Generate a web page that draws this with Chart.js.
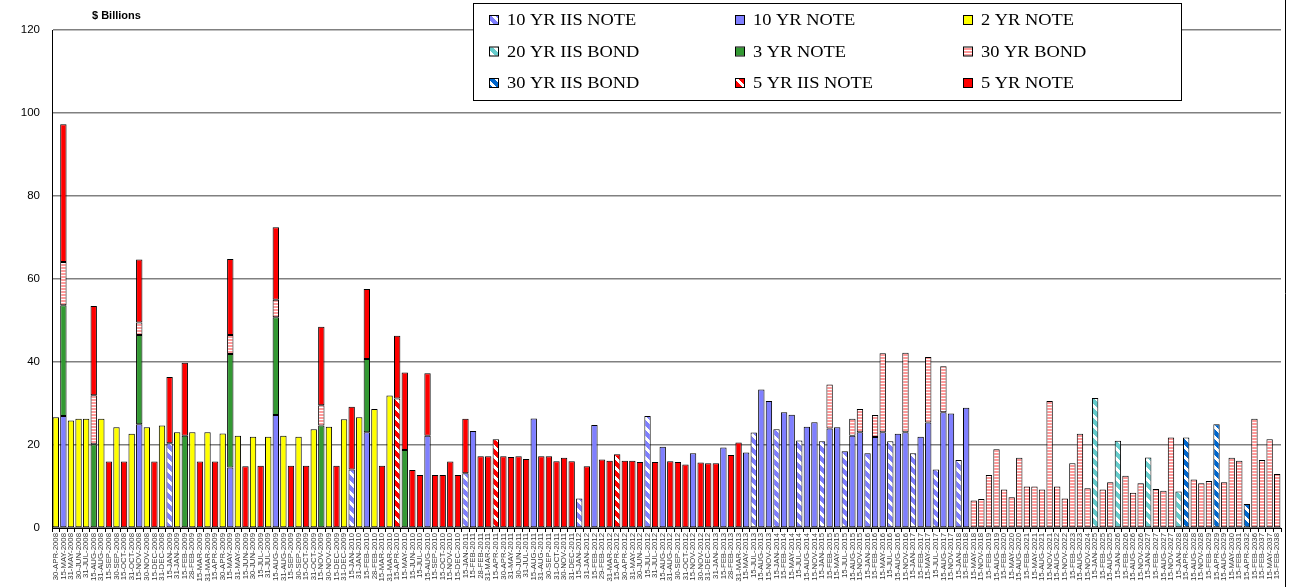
<!DOCTYPE html>
<html>
<head>
<meta charset="utf-8">
<script src="https://cdn.jsdelivr.net/npm/chart.js@4.4.0/dist/chart.umd.min.js"></script>
<style>
  html, body { margin: 0; padding: 0; background: #fff; }
  #wrap { width: 1290px; height: 587px; }
  canvas { display: block; }
</style>
</head>
<body>
<div id="wrap"><canvas id="chart" width="1290" height="587"></canvas></div>
<script>
// Maturity dates (x categories)
const dates = [
  '30-APR-2008','15-MAY-2008','31-MAY-2008','30-JUN-2008','31-JUL-2008','15-AUG-2008','31-AUG-2008','15-SEP-2008',
  '30-SEP-2008','15-OCT-2008','31-OCT-2008','15-NOV-2008','30-NOV-2008','15-DEC-2008','31-DEC-2008','15-JAN-2009',
  '31-JAN-2009','15-FEB-2009','28-FEB-2009','15-MAR-2009','31-MAR-2009','15-APR-2009','30-APR-2009','15-MAY-2009',
  '31-MAY-2009','15-JUN-2009','30-JUN-2009','15-JUL-2009','31-JUL-2009','15-AUG-2009','31-AUG-2009','15-SEP-2009',
  '30-SEP-2009','15-OCT-2009','31-OCT-2009','15-NOV-2009','30-NOV-2009','15-DEC-2009','31-DEC-2009','15-JAN-2010',
  '31-JAN-2010','15-FEB-2010','28-FEB-2010','15-MAR-2010','31-MAR-2010','15-APR-2010','15-MAY-2010','15-JUN-2010',
  '15-JUL-2010','15-AUG-2010','15-SEP-2010','15-OCT-2010','15-NOV-2010','15-DEC-2010','15-JAN-2011','15-FEB-2011',
  '28-FEB-2011','31-MAR-2011','15-APR-2011','30-APR-2011','31-MAY-2011','30-JUN-2011','31-JUL-2011','15-AUG-2011',
  '31-AUG-2011','30-SEP-2011','31-OCT-2011','30-NOV-2011','31-DEC-2011','15-JAN-2012','31-JAN-2012','15-FEB-2012',
  '29-FEB-2012','31-MAR-2012','15-APR-2012','30-APR-2012','31-MAY-2012','30-JUN-2012','15-JUL-2012','31-JUL-2012',
  '15-AUG-2012','31-AUG-2012','30-SEP-2012','31-OCT-2012','15-NOV-2012','30-NOV-2012','31-DEC-2012','31-JAN-2013',
  '15-FEB-2013','28-FEB-2013','31-MAR-2013','15-MAY-2013','15-JUL-2013','15-AUG-2013','15-NOV-2013','15-JAN-2014',
  '15-FEB-2014','15-MAY-2014','15-JUL-2014','15-AUG-2014','15-NOV-2014','15-JAN-2015','15-FEB-2015','15-MAY-2015',
  '15-JUL-2015','15-AUG-2015','15-NOV-2015','15-JAN-2016','15-FEB-2016','15-MAY-2016','15-JUL-2016','15-AUG-2016',
  '15-NOV-2016','15-JAN-2017','15-FEB-2017','15-MAY-2017','15-JUL-2017','15-AUG-2017','15-NOV-2017','15-JAN-2018',
  '15-FEB-2018','15-MAY-2018','15-NOV-2018','15-FEB-2019','15-AUG-2019','15-FEB-2020','15-MAY-2020','15-AUG-2020',
  '15-FEB-2021','15-MAY-2021','15-AUG-2021','15-NOV-2021','15-AUG-2022','15-NOV-2022','15-FEB-2023','15-AUG-2023',
  '15-NOV-2024','15-JAN-2025','15-FEB-2025','15-AUG-2025','15-JAN-2026','15-FEB-2026','15-AUG-2026','15-NOV-2026',
  '15-JAN-2027','15-FEB-2027','15-AUG-2027','15-NOV-2027','15-JAN-2028','15-APR-2028','15-AUG-2028','15-NOV-2028',
  '15-FEB-2029','15-APR-2029','15-AUG-2029','15-MAY-2030','15-FEB-2031','15-APR-2032','15-FEB-2036','15-FEB-2037',
  '15-MAY-2037','15-FEB-2038'
];

// $ billions maturing, by security type
const iis10Note = {
  '15-JAN-2009': 20.4, '15-JAN-2010': 14.1, '15-JAN-2011': 13.2, '15-JAN-2012': 7.1, '15-JUL-2012': 27.0,
  '15-JUL-2013': 23.0, '15-JAN-2014': 23.8, '15-JUL-2014': 21.1, '15-JAN-2015': 20.9, '15-JUL-2015': 18.5,
  '15-JAN-2016': 18.0, '15-JUL-2016': 20.9, '15-JAN-2017': 18.0, '15-JUL-2017': 14.1, '15-JAN-2018': 16.4
};
const note10 = {
  '15-MAY-2008': 27.0, '15-NOV-2008': 25.0, '15-MAY-2009': 14.6, '15-AUG-2009': 27.2, '15-FEB-2010': 23.1,
  '15-AUG-2010': 22.2, '15-FEB-2011': 23.4, '15-AUG-2011': 26.4, '15-FEB-2012': 24.8, '15-AUG-2012': 19.6,
  '15-NOV-2012': 18.0, '15-FEB-2013': 19.4, '15-MAY-2013': 18.2, '15-AUG-2013': 33.4, '15-NOV-2013': 30.6,
  '15-FEB-2014': 27.9, '15-MAY-2014': 27.3, '15-AUG-2014': 24.4, '15-NOV-2014': 25.5, '15-FEB-2015': 24.0,
  '15-MAY-2015': 24.3, '15-AUG-2015': 22.2, '15-NOV-2015': 23.1, '15-FEB-2016': 21.9, '15-MAY-2016': 23.1,
  '15-AUG-2016': 22.7, '15-NOV-2016': 23.1, '15-FEB-2017': 22.0, '15-MAY-2017': 25.4, '15-AUG-2017': 27.9,
  '15-NOV-2017': 27.6, '15-FEB-2018': 29.0
};
const note2 = {
  '30-APR-2008': 26.7, '31-MAY-2008': 25.9, '30-JUN-2008': 26.3, '31-JUL-2008': 26.3, '31-AUG-2008': 26.3,
  '30-SEP-2008': 24.3, '31-OCT-2008': 22.7, '30-NOV-2008': 24.3, '31-DEC-2008': 24.7, '31-JAN-2009': 23.1,
  '28-FEB-2009': 23.1, '31-MAR-2009': 23.1, '30-APR-2009': 22.8, '31-MAY-2009': 22.2, '30-JUN-2009': 22.0,
  '31-JUL-2009': 22.0, '31-AUG-2009': 22.2, '30-SEP-2009': 22.0, '31-OCT-2009': 23.8, '30-NOV-2009': 24.4,
  '31-DEC-2009': 26.2, '31-JAN-2010': 26.7, '28-FEB-2010': 28.7, '31-MAR-2010': 31.9
};
const iis20Bond = {
  '15-JAN-2025': 31.3, '15-JAN-2026': 21.0, '15-JAN-2027': 17.0, '15-JAN-2028': 8.8
};
const note3 = {
  '15-MAY-2008': 26.7, '15-AUG-2008': 20.2, '15-NOV-2008': 21.5, '15-FEB-2009': 22.2, '15-MAY-2009': 27.3,
  '15-AUG-2009': 23.6, '15-NOV-2009': 24.7, '15-FEB-2010': 17.6, '15-MAY-2010': 18.8
};
const bond30 = {
  '15-MAY-2008': 10.4, '15-AUG-2008': 11.8, '15-NOV-2008': 3.0, '15-MAY-2009': 4.6, '15-AUG-2009': 4.2,
  '15-NOV-2009': 4.9, '15-FEB-2015': 10.6, '15-AUG-2015': 4.1, '15-NOV-2015': 5.6, '15-FEB-2016': 5.3,
  '15-MAY-2016': 19.0, '15-NOV-2016': 19.1, '15-MAY-2017': 15.8, '15-AUG-2017': 11.1,
  '15-MAY-2018': 6.6, '15-NOV-2018': 7.0, '15-FEB-2019': 12.8, '15-AUG-2019': 19.0, '15-FEB-2020': 9.3,
  '15-MAY-2020': 7.4, '15-AUG-2020': 16.9, '15-FEB-2021': 10.0, '15-MAY-2021': 10.0, '15-AUG-2021': 9.3,
  '15-NOV-2021': 30.6, '15-AUG-2022': 10.0, '15-NOV-2022': 7.1, '15-FEB-2023': 15.6, '15-AUG-2023': 22.7,
  '15-NOV-2024': 9.6, '15-FEB-2025': 9.3, '15-AUG-2025': 11.0, '15-FEB-2026': 12.6, '15-AUG-2026': 8.5,
  '15-NOV-2026': 10.8, '15-FEB-2027': 9.4, '15-AUG-2027': 9.0, '15-NOV-2027': 21.8, '15-AUG-2028': 11.7,
  '15-NOV-2028': 10.8, '15-FEB-2029': 11.3, '15-AUG-2029': 11.0, '15-MAY-2030': 16.9, '15-FEB-2031': 16.2,
  '15-FEB-2036': 26.3, '15-FEB-2037': 16.4, '15-MAY-2037': 21.4, '15-FEB-2038': 13.0
};
const iis30Bond = {
  '15-APR-2028': 21.8, '15-APR-2029': 25.0, '15-APR-2032': 5.8
};
const iis5Note = {
  '15-APR-2010': 31.2, '15-APR-2011': 21.4, '15-APR-2012': 17.8
};
const note5 = {
  '15-MAY-2008': 33.2, '15-AUG-2008': 21.5, '15-SEP-2008': 16.0, '15-OCT-2008': 16.0, '15-NOV-2008': 15.2,
  '15-DEC-2008': 16.0, '15-JAN-2009': 16.0, '15-FEB-2009': 17.6, '15-MAR-2009': 16.0, '15-APR-2009': 16.0,
  '15-MAY-2009': 18.3, '15-JUN-2009': 14.9, '15-JUL-2009': 15.0, '15-AUG-2009': 17.5, '15-SEP-2009': 15.0,
  '15-OCT-2009': 15.0, '15-NOV-2009': 18.9, '15-DEC-2009': 15.0, '15-JAN-2010': 15.1, '15-FEB-2010': 16.9,
  '15-MAR-2010': 15.0, '15-APR-2010': 15.1, '15-MAY-2010': 18.7, '15-JUN-2010': 14.0, '15-JUL-2010': 12.8,
  '15-AUG-2010': 15.1, '15-SEP-2010': 12.8, '15-OCT-2010': 12.8, '15-NOV-2010': 16.0, '15-DEC-2010': 12.8,
  '15-JAN-2011': 13.1, '28-FEB-2011': 17.3, '31-MAR-2011': 17.3, '30-APR-2011': 17.3, '31-MAY-2011': 17.1,
  '30-JUN-2011': 17.3, '31-JUL-2011': 16.6, '31-AUG-2011': 17.3, '30-SEP-2011': 17.3, '31-OCT-2011': 16.1,
  '30-NOV-2011': 16.9, '31-DEC-2011': 16.1, '31-JAN-2012': 14.9, '29-FEB-2012': 16.5, '31-MAR-2012': 16.2,
  '30-APR-2012': 16.2, '31-MAY-2012': 16.2, '30-JUN-2012': 15.9, '31-JUL-2012': 15.9, '31-AUG-2012': 16.1,
  '30-SEP-2012': 15.9, '31-OCT-2012': 15.3, '30-NOV-2012': 15.8, '31-DEC-2012': 15.6, '31-JAN-2013': 15.6,
  '28-FEB-2013': 17.6, '31-MAR-2013': 20.6
};

const yTicks = [0, 20, 40, 60, 80, 100, 120];

// Excel-like fill patterns
function stripePattern(color, kind) {
  const c = document.createElement('canvas');
  const g = c.getContext('2d');
  if (kind === 'horizontal') {
    c.width = 4; c.height = 3;
    g.fillStyle = '#fff'; g.fillRect(0, 0, 4, 3);
    g.fillStyle = color; g.fillRect(0, 0, 4, 2);
  } else {
    const s = 10;
    c.width = s; c.height = s;
    g.fillStyle = '#fff'; g.fillRect(0, 0, s, s);
    g.fillStyle = color;
    for (let y = 0; y < s; y++) {
      for (let x = 0; x < s; x++) {
        if (((x - y) % s + s) % s < 6) g.fillRect(x, y, 1, 1);
      }
    }
  }
  return g.createPattern(c, 'repeat');
}

const series = [
  { label: '10 YR IIS NOTE', values: iis10Note, fill: stripePattern('#7F7FFF', 'diag') },
  { label: '10 YR NOTE', values: note10, fill: '#7F7FFF' },
  { label: '2 YR NOTE', values: note2, fill: '#FFFF00' },
  { label: '20 YR IIS BOND', values: iis20Bond, fill: stripePattern('#66CCCC', 'diag') },
  { label: '3 YR NOTE', values: note3, fill: '#339933' },
  { label: '30 YR BOND', values: bond30, fill: stripePattern('#FF9999', 'horizontal') },
  { label: '30 YR IIS BOND', values: iis30Bond, fill: stripePattern('#0066CC', 'diag') },
  { label: '5 YR IIS NOTE', values: iis5Note, fill: stripePattern('#FF0000', 'diag') },
  { label: '5 YR NOTE', values: note5, fill: '#FF0000' }
];

const legendCols = [507, 753, 981];

// Boxed 3x3 legend, axis caption and outer frame
const decorations = {
  id: 'decorations',
  afterDraw(chart) {
    const ctx = chart.ctx;
    ctx.save();
    // outer frame on the right
    ctx.strokeStyle = '#000';
    ctx.lineWidth = 1;
    ctx.beginPath();
    ctx.moveTo(1285.5, 0);
    ctx.lineTo(1285.5, 587);
    ctx.stroke();

    // "$ Billions"
    ctx.fillStyle = '#000';
    ctx.font = 'bold 11px Arial, "Liberation Sans"';
    ctx.textBaseline = 'alphabetic';
    ctx.fillText('$ Billions', 92, 19);

    // legend box
    ctx.fillStyle = '#fff';
    ctx.fillRect(473.5, 3.5, 708, 97);
    ctx.strokeRect(473.5, 3.5, 708, 97);
    chart.data.datasets.forEach((ds, i) => {
      const tx = legendCols[i % 3];
      const y = 20 + Math.floor(i / 3) * 31.5;
      const sx = tx - 17;
      ctx.fillStyle = ds.backgroundColor;
      ctx.fillRect(sx, y - 4, 8, 8);
      ctx.strokeStyle = '#000';
      ctx.strokeRect(sx - 0.5, y - 4.5, 9, 9);
      ctx.fillStyle = '#000';
      ctx.font = '16px "Liberation Serif", "Times New Roman", serif';
      ctx.textBaseline = 'middle';
      ctx.save();
      ctx.translate(tx, y + 1);
      ctx.scale(1.15, 1);
      ctx.fillText(ds.label, 0, 0);
      ctx.restore();
    });
    ctx.restore();
  }
};

new Chart(document.getElementById('chart'), {
  type: 'bar',
  data: {
    labels: dates,
    datasets: series.map(s => ({
      label: s.label,
      data: dates.map(d => (d in s.values ? s.values[d] : null)),
      backgroundColor: s.fill,
      borderColor: '#000',
      borderWidth: 1,
      borderSkipped: false,
      categoryPercentage: 1,
      barPercentage: 0.84
    }))
  },
  options: {
    responsive: false,
    devicePixelRatio: 1,
    animation: false,
    layout: { padding: { top: 30, right: 9, left: 0, bottom: 0 } },
    plugins: {
      legend: { display: false },
      tooltip: { enabled: false }
    },
    scales: {
      x: {
        stacked: true,
        grid: { drawOnChartArea: false, drawTicks: true, tickLength: 4, color: '#000', offset: true },
        border: { color: '#000', width: 1 },
        ticks: {
          autoSkip: false,
          minRotation: 90,
          maxRotation: 90,
          padding: 1,
          color: '#333',
          font: { family: 'Arial, "Liberation Sans"', size: 7.8 }
        },
        afterFit(scale) { scale.height = 59; }
      },
      y: {
        stacked: true,
        min: 0,
        max: 120,
        afterBuildTicks(scale) { scale.ticks = yTicks.map(v => ({ value: v })); },
        grid: { color: '#808080', lineWidth: 1.5, drawTicks: false },
        border: { color: '#000', width: 1 },
        ticks: {
          padding: 12,
          color: '#000',
          font: { family: 'Arial, "Liberation Sans"', size: 11.5 }
        },
        afterFit(scale) { scale.width = 52; }
      }
    }
  },
  plugins: [decorations]
});
</script>
</body>
</html>
